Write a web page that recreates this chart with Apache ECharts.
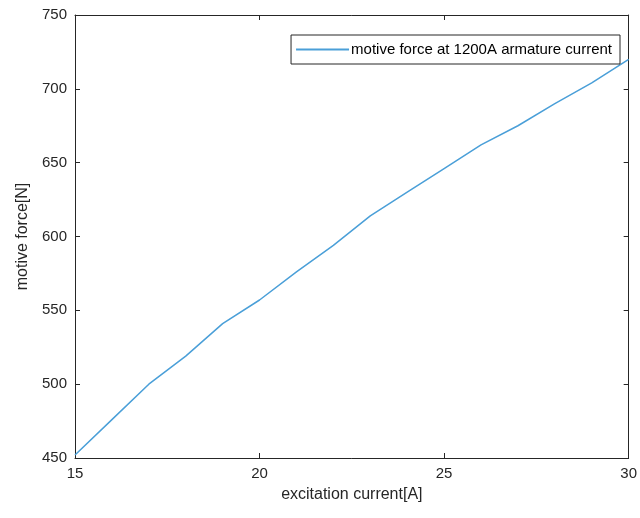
<!DOCTYPE html>
<html>
<head>
<meta charset="utf-8">
<script src="https://cdn.jsdelivr.net/npm/echarts@6/dist/echarts.min.js"></script>
<style>
  html, body { margin: 0; padding: 0; background: #fff; }
  #main { width: 640px; height: 518px; }
</style>
</head>
<body>
<div id="main"></div>
<script>
// excitation current [A]
const excitation = [15, 16, 17, 18, 19, 20, 21, 22, 23, 24, 25, 26, 27, 28, 29, 30]
// motive force at 1200A armature current [N]
const force = [452, 476, 500, 519, 541, 557, 576, 594, 614, 630, 646, 662, 675, 690, 704, 720]
const seriesName = 'motive force at 1200A armature current'

const lineColor = '#4a9fd8'
const axisColor = '#262626'
const font = 'Liberation Sans, Arial, sans-serif'

// xy pairs for value axis
const points = excitation.map((x, i) => [x, force[i]])

// axis style shared by the four sides (box on, ticks inside)
const sideAxis = (showLabel) => ({
  axisLine: { show: true, lineStyle: { color: axisColor, width: 1 } },
  axisTick: { show: true, inside: true, length: 5, lineStyle: { color: axisColor } },
  axisLabel: { show: showLabel, color: axisColor, fontSize: 15, fontFamily: font },
  splitLine: { show: false },
})

let option = {
  animation: false,
  backgroundColor: '#fff',
  grid: { left: 75, right: 9, top: 15, bottom: 60 },
  legend: {
    show: true,
    right: 20,
    top: 35,
    padding: [7, 8, 7, 5],
    borderColor: axisColor,
    borderWidth: 1,
    backgroundColor: '#fff',
    itemWidth: 53,
    itemHeight: 2,
    itemGap: 2,
    icon: 'rect',
    textStyle: { color: '#000', fontSize: 15, fontFamily: font, padding: [0, 0, 0, -3] },
    data: [seriesName],
  },
  xAxis: [
    {
      type: 'value',
      min: 15,
      max: 30,
      interval: 5,
      position: 'bottom',
      name: 'excitation current[A]',
      nameLocation: 'middle',
      nameGap: 29,
      nameTextStyle: { color: axisColor, fontSize: 16, fontFamily: font },
      ...sideAxis(true),
    },
    {
      type: 'value',
      min: 15,
      max: 30,
      interval: 5,
      position: 'top',
      ...sideAxis(false),
    },
  ],
  yAxis: [
    {
      type: 'value',
      min: 450,
      max: 750,
      interval: 50,
      position: 'left',
      name: 'motive force[N]',
      nameLocation: 'middle',
      nameGap: 44,
      nameTextStyle: { color: axisColor, fontSize: 16, fontFamily: font },
      ...sideAxis(true),
    },
    {
      type: 'value',
      min: 450,
      max: 750,
      interval: 50,
      position: 'right',
      ...sideAxis(false),
    },
  ],
  series: [
    {
      name: seriesName,
      type: 'line',
      data: points,
      showSymbol: false,
      lineStyle: { color: lineColor, width: 1.5 },
      itemStyle: { color: lineColor },
    },
  ],
}

let myChart = echarts.init(document.getElementById('main'))
myChart.setOption(option)
</script>
</body>
</html>
